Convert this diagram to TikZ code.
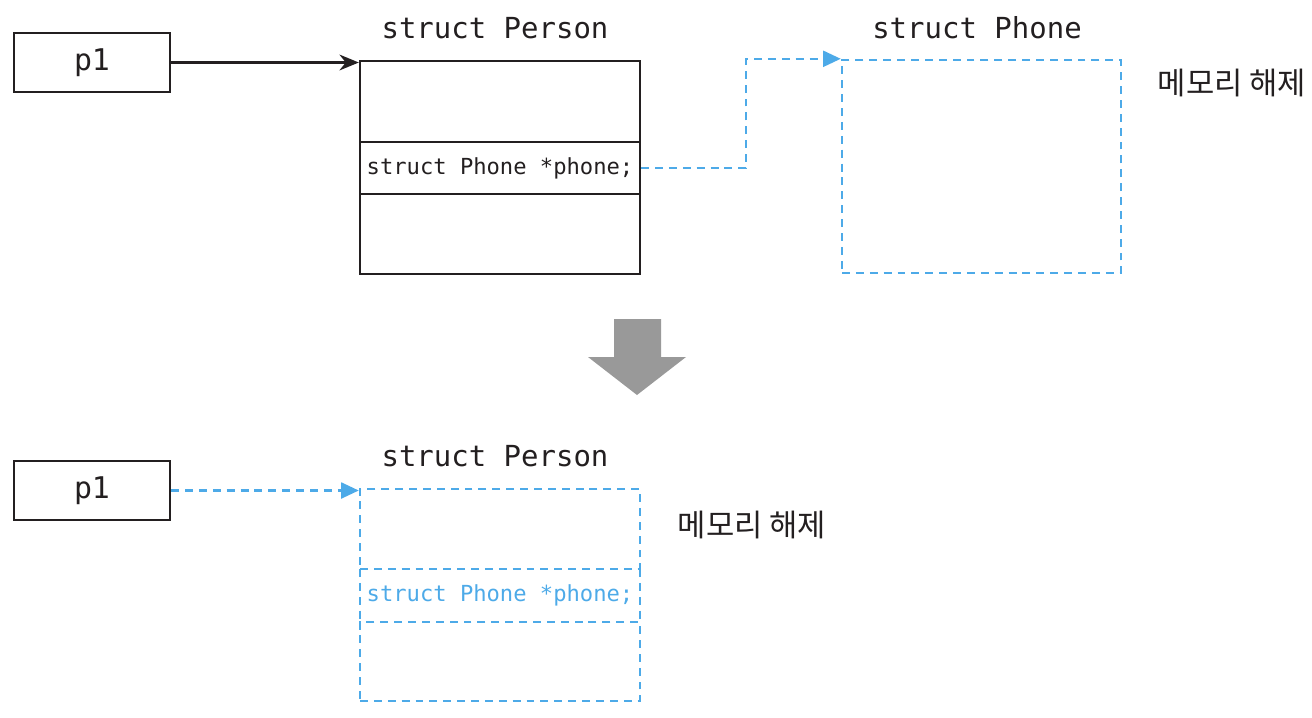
\documentclass[tikz,border=0pt]{standalone}
\usepackage{fontspec}
\setmonofont{DejaVu Sans Mono}
\newfontfamily\krfont{Noto Sans CJK KR}
\usetikzlibrary{arrows.meta}
\definecolor{ink}{RGB}{35,31,32}
\definecolor{freeblue}{RGB}{77,170,232}
\definecolor{bigarrow}{RGB}{153,153,153}
\tikzset{
  cell/.style={draw=ink, line width=1.4pt, minimum width=5.6cm, inner sep=0pt},
  freecell/.style={cell, draw=freeblue, dash pattern=on 4.5pt off 3.4pt},
  freeline/.style={draw=freeblue, line width=1.4pt, dash pattern=on 4.5pt off 3.4pt},
  varbox/.style={draw=ink, line width=1.4pt, minimum width=3.12cm, minimum height=1.18cm, font=\ttfamily\fontsize{17}{18}\selectfont, text=ink},
  title/.style={font=\ttfamily\fontsize{16.5}{18}\selectfont, text=ink},
  field/.style={font=\ttfamily\fontsize{12.6}{14}\selectfont, text=ink},
  note/.style={font=\krfont\fontsize{17.5}{19}\selectfont, text=ink},
  ptr/.style={draw=ink, line width=1.4pt, -{Stealth[length=11pt,width=9pt]}},
  freeptr/.style={draw=freeblue, line width=1.4pt, dash pattern=on 4.5pt off 3.4pt, -{Triangle[length=10pt,width=9pt]}}
}
\begin{document}
\begin{tikzpicture}[x=0.02cm,y=-0.02cm]
\useasboundingbox (0,0) rectangle (1312,717);

% before free
\node[varbox] (p1) at (92,62.5) {p1};
\node[title] (tperson) at (495,28) {struct Person};
\node[cell, minimum height=1.62cm] (pertop) at (500,101.5) {};
\node[cell, minimum height=1.04cm, field] (permid) at (500,168) {struct Phone *phone;};
\node[cell, minimum height=1.6cm] (perbot) at (500,234) {};
\node[title] (tphone) at (977,28) {struct Phone};
\node[freecell, minimum width=5.58cm, minimum height=4.26cm] (phone) at (981.5,166.5) {};
\node[note] (free1) at (1232,83) {메모리 해제};

\draw[ptr] (p1) -- (p1 -| pertop.west);
\draw[freeptr] (permid.east) -- ++(105,0) |- (phone.north west);

% big arrow
\fill[bigarrow] (614,319) -- (661,319) -- (661,357) -- (686,357) -- (637,395) -- (588,357) -- (614,357) -- cycle;

% after free
\node[varbox] (q1) at (92,490.5) {p1};
\node[title] (tperson2) at (495,456) {struct Person};
\node[freecell, minimum height=1.6cm] (fretop) at (500,529) {};
\node[cell, draw=none, outer sep=0pt, minimum height=1.06cm, field, text=freeblue] (fremid) at (500,595.5) {struct Phone *phone;};
\node[freecell, minimum height=1.58cm] (frebot) at (500,661.5) {};
\draw[freeline] (fremid.north west) -- (fremid.south west);
\draw[freeline] (fremid.north east) -- (fremid.south east);
\node[note] (free2) at (752,525) {메모리 해제};

\draw[freeptr] (q1) -- (q1 -| fretop.west);
\end{tikzpicture}
\end{document}
